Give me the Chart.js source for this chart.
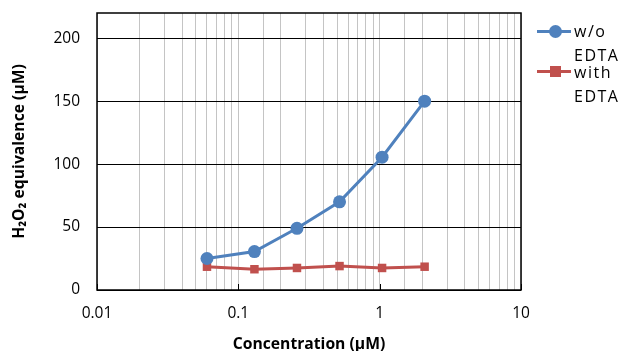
<!DOCTYPE html>
<html>
<head>
<meta charset="utf-8">
<script src="https://cdn.jsdelivr.net/npm/chart.js@4/dist/chart.umd.min.js"></script>
<style>
  html,body{margin:0;padding:0;background:#fff;}
  #wrap{position:relative;width:622px;height:351px;}
  canvas{position:absolute;left:0;top:0;}
  .leg{position:absolute;font-family:"Open Sans",sans-serif;font-size:16px;letter-spacing:1.5px;color:#000;line-height:24px;}
  .ln{position:absolute;height:3px;}
  .mk{position:absolute;}
</style>
</head>
<body>
<div id="wrap">
  <canvas id="c" width="622" height="351"></canvas>
  <div class="ln" style="left:537px;top:30px;width:34px;background:#4F81BD"></div>
  <div class="mk" style="left:549px;top:25px;width:13px;height:13px;border-radius:50%;background:#4F81BD"></div>
  <div class="leg" style="left:574px;top:19px">w/o<br>EDTA</div>
  <div class="ln" style="left:537px;top:70px;width:34px;background:#C0504D"></div>
  <div class="mk" style="left:550px;top:66px;width:11px;height:11px;background:#C0504D"></div>
  <div class="leg" style="left:574px;top:60px">with<br>EDTA</div>
</div>
<script>
const concentrations = [0.06, 0.13, 0.26, 0.52, 1.04, 2.08];
const withoutEDTA = [25, 30.5, 49, 70, 105.5, 150];
const withEDTA = [18.5, 16.5, 17.5, 19, 17.5, 18.5];
const seriesNames = ["w/o EDTA", "with EDTA"];
const xTickLabels = [0.01, 0.1, 1, 10];
const yTickValues = [0, 50, 100, 150, 200];

const FONT = '"Open Sans", sans-serif';

const boxPlugin = {
  id: 'box',
  afterDraw(chart) {
    const a = chart.chartArea, ctx = chart.ctx;
    ctx.save();
    ctx.strokeStyle = '#000';
    ctx.lineWidth = 1.5;
    ctx.strokeRect(a.left, a.top, a.right - a.left, a.bottom - a.top);
    const xs = chart.scales.x;
    ctx.lineWidth = 1;
    xTickLabels.forEach(v => {
      const px = Math.round(xs.getPixelForValue(v)) + 0.5;
      ctx.beginPath();
      ctx.moveTo(px, a.bottom);
      ctx.lineTo(px, a.bottom - 6);
      ctx.stroke();
    });
    ctx.restore();
  }
};

new Chart(document.getElementById('c'), {
  type: 'line',
  data: {
    datasets: [
      {
        label: seriesNames[0],
        data: concentrations.map((x, i) => ({x, y: withoutEDTA[i]})),
        borderColor: '#4F81BD', backgroundColor: '#4F81BD',
        borderWidth: 3, pointStyle: 'circle', pointRadius: 6.5,
        pointBorderWidth: 0, tension: 0
      },
      {
        label: seriesNames[1],
        data: concentrations.map((x, i) => ({x, y: withEDTA[i]})),
        borderColor: '#C0504D', backgroundColor: '#C0504D',
        borderWidth: 3, pointStyle: 'rect', pointRadius: 6,
        pointBorderWidth: 0, tension: 0
      }
    ]
  },
  options: {
    responsive: false,
    animation: false,
    layout: { padding: { left: 0, top: 13, right: 101, bottom: 0 } },
    plugins: { legend: { display: false }, tooltip: { enabled: false } },
    scales: {
      x: {
        type: 'logarithmic',
        min: 0.01, max: 10,
        afterFit(s) { s.height = 61; s.paddingLeft = 0; s.paddingRight = 0; },
        grid: { color: '#C4C4C4', lineWidth: 1, drawTicks: false },
        border: { display: false },
        ticks: {
          color: '#000', padding: 14, maxRotation: 0, minRotation: 0, autoSkip: false,
          font: { family: FONT, size: 15.5 },
          callback(v) {
            const m = xTickLabels.find(t => Math.abs(t - v) / t < 1e-6);
            return m !== undefined ? String(m) : '';
          }
        },
        title: {
          display: true, text: 'Concentration (µM)', color: '#000',
          font: { family: FONT, size: 15.7, weight: 'bold' }, padding: { top: 11, bottom: -3 }
        }
      },
      y: {
        min: 0, max: 220,
        afterFit(s) { s.width = 97; s.paddingTop = 0; s.paddingBottom = 0; },
        afterBuildTicks(s) { s.ticks = yTickValues.map(v => ({value: v})); },
        grid: { color: '#000', lineWidth: 1, drawTicks: false },
        border: { display: false },
        ticks: { color: '#000', padding: 17, font: { family: FONT, size: 15.5 } },
        title: {
          display: true, text: 'H₂O₂ equivalence (µM)', color: '#000',
          font: { family: FONT, size: 15.7, weight: 'bold' }, padding: { top: 10, bottom: 0 }
        }
      }
    }
  },
  plugins: [boxPlugin]
});
</script>
</body>
</html>
